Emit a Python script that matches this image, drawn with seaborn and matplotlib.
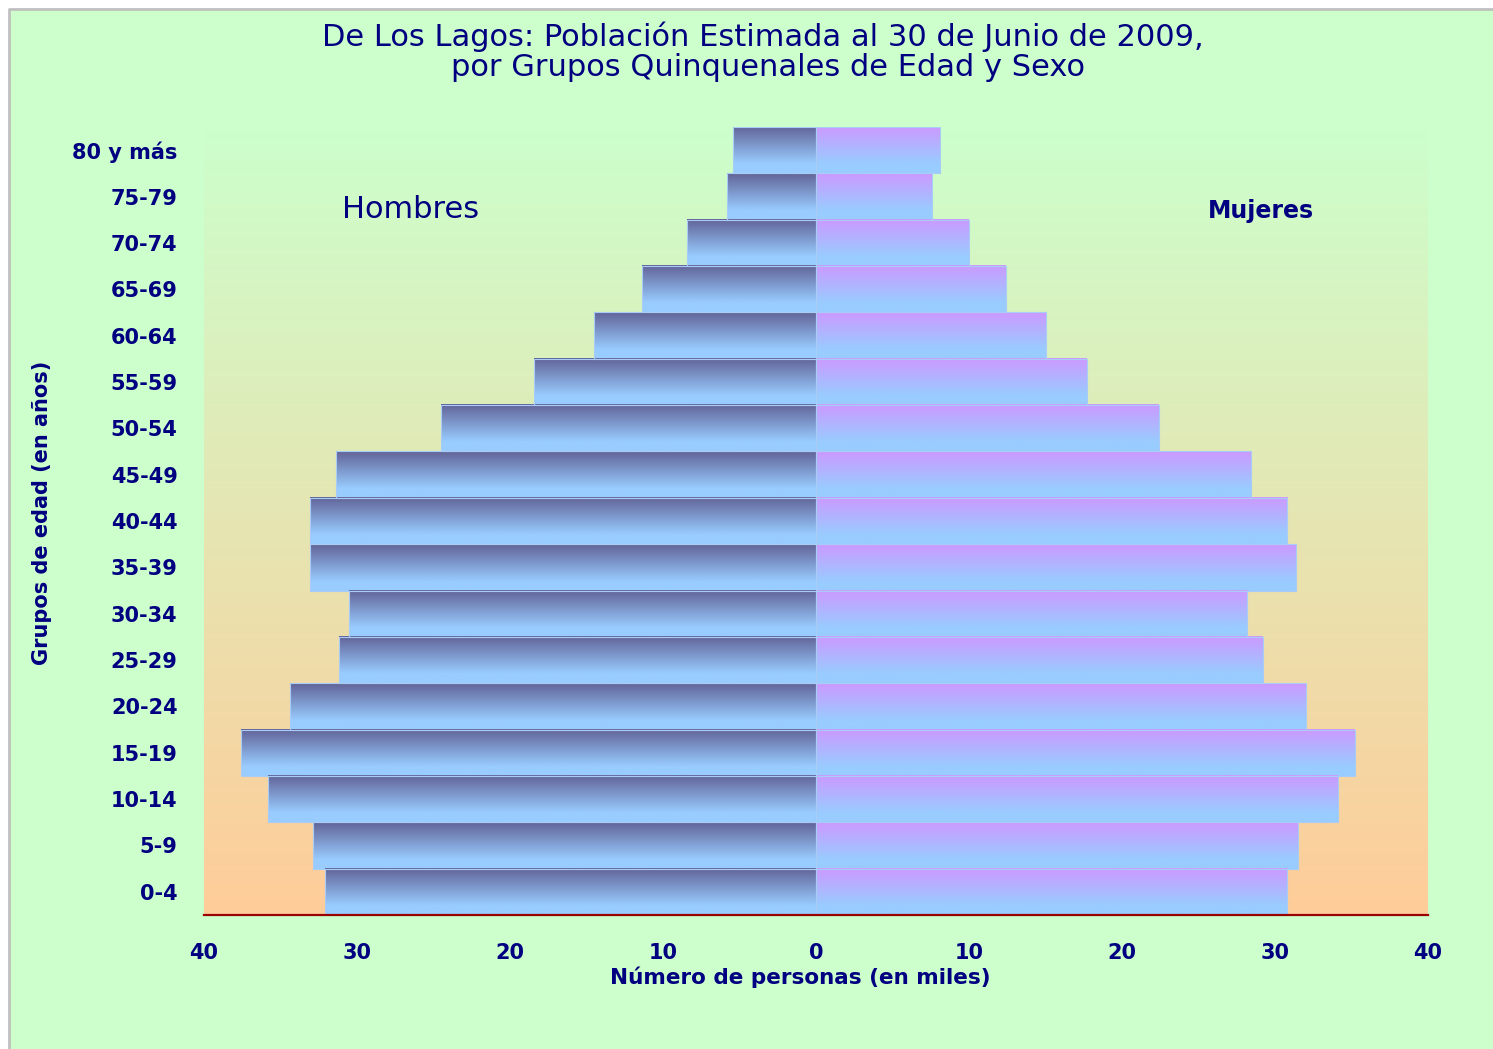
import numpy as np
import pandas as pd
import matplotlib
matplotlib.use("Agg")
import matplotlib.pyplot as plt
import seaborn as sns
from matplotlib.colors import to_rgb
from matplotlib.patches import Rectangle
from matplotlib.lines import Line2D

# datos (miles de personas), de 0-4 hasta 80 y más
grupos = ["0-4", "5-9", "10-14", "15-19", "20-24", "25-29", "30-34", "35-39",
          "40-44", "45-49", "50-54", "55-59", "60-64", "65-69", "70-74", "75-79", "80 y más"]
hombres = [32.1, 32.9, 35.8, 37.6, 34.4, 31.2, 30.5, 33.1, 33.1, 31.4, 24.5, 18.4, 14.5, 11.4, 8.4, 5.8, 5.4]
mujeres = [30.8, 31.5, 34.1, 35.2, 32.0, 29.2, 28.2, 31.4, 30.8, 28.4, 22.4, 17.7, 15.0, 12.4, 10.0, 7.6, 8.1]
xticks = [-40, -30, -20, -10, 0, 10, 20, 30, 40]

navy = "#000080"

df = pd.DataFrame({
    "grupo": grupos + grupos,
    "sexo": ["Hombres"] * len(grupos) + ["Mujeres"] * len(grupos),
    "valor": [-v for v in hombres] + mujeres,
})

sns.set_style("white")
plt.rcParams["font.family"] = ["DejaVu Sans"]

fig = plt.figure(figsize=(14.93, 10.49), dpi=100, facecolor="white")
W, H = 1493, 1049
# fondo verde con borde gris solo arriba e izquierda
fig.patches.append(Rectangle((9 / W, 0), 1, 1 - 9 / H, transform=fig.transFigure,
                             facecolor="#CCFFCC", edgecolor="none", zorder=-10))
fig.lines.append(Line2D([9 / W, 9 / W, 1], [0, 1 - 9 / H, 1 - 9 / H], transform=fig.transFigure,
                        color="#C0C0C0", linewidth=2))

ax = fig.add_axes([204 / W, 1 - 915 / H, (1428 - 204) / W, (915 - 127) / H])
ax.set_facecolor("none")

sns.barplot(data=df, x="valor", y="grupo", hue="sexo", order=grupos[::-1], dodge=False,
            width=1, orient="h", errorbar=None, legend=False,
            palette={"Hombres": "#666699", "Mujeres": "#CC99FF"}, ax=ax)

# fondo degradado del área de trazado
bg_top, bg_bot = np.array(to_rgb("#CCFFCC")), np.array(to_rgb("#FFCC99"))
t = np.linspace(0, 1, 256)[:, None]
bg = (bg_top * (1 - t) + bg_bot * t)[:, None, :]
ax.imshow(bg, extent=(0, 1, 0, 1), transform=ax.transAxes, aspect="auto", zorder=-5)


def grad(c_top, c_bot, n=64):
    s = np.clip(np.linspace(0, 1, n) / 0.8, 0, 1)[:, None]
    a, b = np.array(to_rgb(c_top)), np.array(to_rgb(c_bot))
    return (a * (1 - s) + b * s)[:, None, :]


g_h = grad("#626498", "#99CCFF")
g_m = grad("#CC99FF", "#99CCFF")
for p in ax.patches:
    x0, y0 = p.get_x(), p.get_y()
    w, h = p.get_width(), p.get_height()
    img = g_h if w < 0 else g_m
    ax.imshow(img, extent=(min(x0, x0 + w), max(x0, x0 + w), y0 + h, y0),
              origin="upper", aspect="auto", zorder=1)
    p.set_facecolor("none")
    p.set_edgecolor("#A8CCF5")
    p.set_linewidth(0.8)
    p.set_zorder(2)

ax.set_xlim(-40, 40)
ax.set_ylim(len(grupos) - 0.5, -0.5)
ax.set_xticks(xticks)
ax.set_xticklabels([str(abs(v)) for v in xticks])
ax.tick_params(axis="both", length=0, labelsize=15, labelcolor=navy)
ax.tick_params(axis="x", pad=20)
ax.tick_params(axis="y", pad=19)
for lab in ax.get_xticklabels() + ax.get_yticklabels():
    lab.set_fontweight("bold")
ax.set_xlabel("")
ax.set_ylabel("")
for s in ["top", "left", "right"]:
    ax.spines[s].set_visible(False)
ax.spines["bottom"].set_color("#990000")
ax.spines["bottom"].set_linewidth(1.6)
ax.spines["bottom"].set_zorder(5)

fig.text(763 / W, 1 - 37 / H, "De Los Lagos: Población Estimada al 30 de Junio de 2009,",
         ha="center", va="center", fontsize=22, color=navy)
fig.text(768 / W, 1 - 68 / H, "por Grupos Quinquenales de Edad y Sexo",
         ha="center", va="center", fontsize=22, color=navy)
fig.text(800 / W, 1 - 977 / H, "Número de personas (en miles)", ha="center", va="center",
         fontsize=15.5, fontweight="bold", color=navy)
fig.text(42 / W, 1 - 513 / H, "Grupos de edad (en años)", ha="center", va="center",
         rotation=90, fontsize=15, fontweight="bold", color=navy)
fig.text(411 / W, 1 - 210 / H, "Hombres", ha="center", va="center", fontsize=22, color=navy)
fig.text(1261 / W, 1 - 211 / H, "Mujeres", ha="center", va="center", fontsize=17,
         fontweight="bold", color=navy)

fig.savefig("out.png", dpi=100, facecolor=fig.get_facecolor())
